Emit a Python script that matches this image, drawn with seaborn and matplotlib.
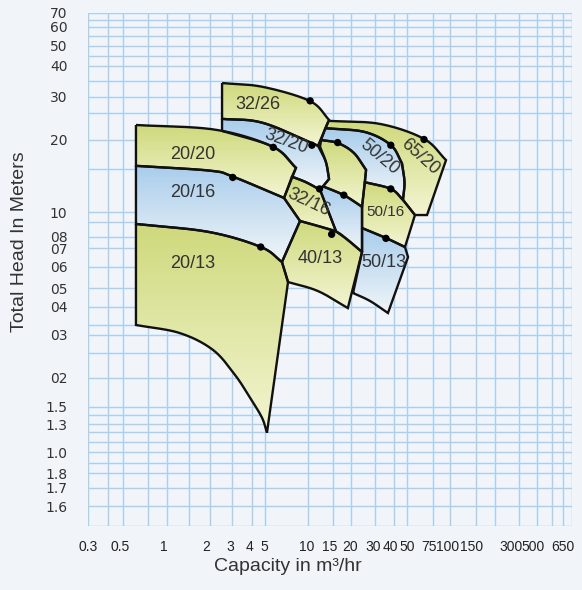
import numpy as np
import matplotlib
matplotlib.use("Agg")
import matplotlib.pyplot as plt
import matplotlib.transforms as mtransforms
import seaborn as sns
from matplotlib.path import Path
from matplotlib.patches import PathPatch
from matplotlib.colors import LinearSegmentedColormap

# ---------------------------------------------------------------- grid / scales
# printed grid lines (capacity m3/hr) and where they sit across the sheet
cap_grid = [0.3, 0.4, 0.5, 0.75, 1, 1.5, 2, 3, 4, 5, 10, 15, 20, 30, 40, 50, 75, 100, 150, 200, 300, 500, 600, 650, 750]
cap_grid_pos = [88.3, 107.7, 122.7, 147.7, 167.3, 189.3, 210, 232.3, 252.3, 265, 308.3, 333.3, 351, 375, 394, 407.3,
                432.7, 450, 476, 495, 519.3, 537.3, 552.3, 563.3, 571.7]
cap_ticks = [0.3, 0.5, 1, 2, 3, 4, 5, 10, 15, 20, 30, 40, 50, 75, 100, 150, 300, 500, 650]
cap_tick_labels = ["0.3", "0.5", "1", "2", "3", "4", "5", "10", "15", "20", "30", "40", "50", "75", "100", "150",
                   "300", "500", "650"]
cap_label_shift = [0, -2.5, -3, -4, -2, -3, -1, -2, -4, -1, -2, -4, 0, -4, -2, -4, -8, -4, 0]

# printed grid lines (head m) and their heights on the sheet
head_grid = [0.5, 0.6, 0.7, 0.8, 0.9, 1.0, 1.1, 1.2, 1.3, 1.4, 1.5, 2, 2.5, 3, 3.5, 4, 5, 6, 7, 8, 9, 10, 15, 20, 25,
             30, 35, 40, 45, 50, 55, 60, 65, 70]
head_grid_pos = [526, 506, 487.7, 473.3, 462.7, 452.3, 442, 431.7, 424, 415, 406.7, 377.7, 353, 335, 325, 306.7, 288,
                 266.5, 248, 236.5, 221.5, 212, 168.5, 139.5, 113, 96.5, 81, 65.5, 56, 45.5, 36, 27, 19.5, 12.7]
head_ticks = [70, 60, 50, 40, 30, 20, 10, 8, 7, 6, 5, 4, 3, 2, 1.5, 1.3, 1.0, 0.8, 0.7, 0.6]
head_tick_labels = ["70", "60", "50", "40", "30", "20", "10", "08", "07", "06", "05", "04", "03", "02", "1.5", "1.3",
                    "1.0", "1.8", "1.7", "1.6"]

# ---------------------------------------------------------------- pump areas
# outlines as (capacity m3/hr, head m) along each edge; edges with 3+ points are curves
area_65_20 = [[(13.9, 23.4), (32.4, 22.8), (65.3, 20.1), (93.6, 16.3)], [(93.6, 16.3), (68.5, 9.67)],
              [(68.5, 9.67), (56.5, 9.67)], [(56.5, 9.67), (46.5, 11.2)],
              [(46.5, 11.2), (47.7, 13.2), (45.7, 15.8)], [(45.7, 15.8), (38.2, 18.9), (25.3, 21.3), (13.2, 22)],
              [(13.2, 22), (13.9, 23.4)]]
area_50_20 = [[(13.2, 22), (25.3, 21.3), (38.2, 18.9), (45.7, 15.8)], [(45.7, 15.8), (47.7, 13.2), (46.5, 11.2)],
              [(46.5, 11.2), (38.2, 12.4), (25.3, 13.2)], [(25.3, 13.2), (25.8, 14.8)],
              [(25.8, 14.8), (21, 17.5), (16.2, 19.3), (12.3, 19.9)], [(12.3, 19.9), (13.2, 22)]]
area_40_20 = [[(12.3, 19.9), (16.2, 19.3), (21, 17.5), (25.8, 14.8)], [(25.8, 14.8), (24.1, 10.5)],
              [(24.1, 10.5), (17.8, 11.7), (12.7, 12.7)], [(12.7, 12.7), (14, 13.6)],
              [(14, 13.6), (13.3, 16), (12.1, 18.6)], [(12.1, 18.6), (12.3, 19.9)]]
area_40_16 = [[(12.7, 12.7), (17.8, 11.7), (24.1, 10.5)], [(24.1, 10.5), (24.1, 6.77)],
              [(24.1, 6.77), (19, 7.68), (15.7, 8.32)], [(15.7, 8.32), (12.1, 12.3)], [(12.1, 12.3), (12.7, 12.7)]]
area_50_16 = [[(25.3, 13.2), (38.2, 12.4), (46.5, 11.2)], [(46.5, 11.2), (56.5, 9.67)], [(56.5, 9.67), (48.1, 7.08)],
              [(48.1, 7.08), (35.4, 7.86), (24.1, 8.55)], [(24.1, 8.55), (24.1, 10.5)], [(24.1, 10.5), (25.3, 13.2)]]
area_50_13 = [[(24.1, 8.55), (35.4, 7.86), (48.1, 7.08)], [(48.1, 7.08), (50.6, 6.49)], [(50.6, 6.49), (36.5, 3.82)],
              [(36.5, 3.82), (27.6, 4.28), (20.7, 4.71)], [(20.7, 4.71), (24.1, 6.77)], [(24.1, 6.77), (24.1, 8.55)]]
area_32_26 = [[(2.49, 34.3), (4.83, 33), (10.3, 28.5), (14, 23.6)], [(14, 23.6), (11.7, 18.8)],
              [(11.7, 18.8), (4.83, 23), (2.49, 23.8)], [(2.49, 23.8), (2.49, 34.3)]]
area_32_20 = [[(2.49, 23.8), (4.83, 23), (11.7, 18.8)], [(11.7, 18.8), (13.3, 16), (14, 13.6)],
              [(14, 13.6), (12.1, 12.3)], [(12.1, 12.3), (9.64, 13.2), (7.7, 13.9)], [(7.7, 13.9), (8.21, 15.1)],
              [(8.21, 15.1), (5.68, 18.6), (2.49, 21.5)], [(2.49, 21.5), (2.49, 23.8)]]
area_32_16 = [[(7.7, 13.9), (9.64, 13.2), (12.1, 12.3)], [(12.1, 12.3), (15.7, 8.32)],
              [(15.7, 8.32), (11.7, 8.69), (8.76, 9.05)], [(8.76, 9.05), (6.78, 11.4)], [(6.78, 11.4), (7.7, 13.9)]]
area_40_13 = [[(8.76, 9.05), (11.7, 8.69), (15.7, 8.32), (19, 7.68), (24.1, 6.77)], [(24.1, 6.77), (19, 3.96)],
              [(19, 3.96), (11.7, 4.82), (7.23, 5.26)], [(7.23, 5.26), (6.56, 6.23)], [(6.56, 6.23), (8.76, 9.05)]]
area_20_20 = [[(0.62, 22.6), (2.23, 21.7), (5.68, 18.6), (8.21, 15.1)], [(8.21, 15.1), (6.78, 11.4)],
              [(6.78, 11.4), (3.03, 13.9), (2, 14.7), (0.62, 15.4)], [(0.62, 15.4), (0.62, 22.6)]]
area_20_16 = [[(0.62, 15.4), (2, 14.7), (3.03, 13.9), (6.78, 11.4)], [(6.78, 11.4), (8.76, 9.05)],
              [(8.76, 9.05), (6.56, 6.23)], [(6.56, 6.23), (4.66, 7.08), (1.97, 8.29), (0.62, 8.83)],
              [(0.62, 8.83), (0.62, 15.4)]]
area_20_13 = [[(0.62, 8.83), (1.97, 8.29), (4.66, 7.08), (6.56, 6.23)], [(6.56, 6.23), (7.23, 5.26)],
              [(7.23, 5.26), (5.16, 1.19)],
              [(5.16, 1.19), (4.74, 1.37), (3.87, 1.64), (3.12, 2.05), (2.11, 2.58), (1.26, 3.09), (0.62, 3.5)],
              [(0.62, 3.5), (0.62, 8.83)]]

# drawing order, tint ("y" green-yellow / "b" blue)
areas = [(area_65_20, "y"), (area_50_20, "b"), (area_40_20, "y"), (area_40_16, "b"), (area_50_16, "y"),
         (area_50_13, "b"), (area_32_26, "y"), (area_32_20, "b"), (area_32_16, "y"), (area_40_13, "y"),
         (area_20_20, "y"), (area_20_16, "b"), (area_20_13, "y")]

# model names: text, capacity, head, angle, size
model_names = ["20/20", "20/16", "20/13", "32/26", "32/20", "32/16", "40/13", "50/20", "65/20", "50/16", "50/13"]
name_cap = [1.58, 1.58, 1.58, 4.42, 7.0, 10.1, 12.1, 31.9, 61.2, 35.4, 34.4]
name_head = [17.3, 12.0, 6.13, 27.6, 19.7, 10.9, 6.39, 16.8, 16.8, 10.0, 6.18]
name_angle = [0, 0, 0, 0, -20, -25, 0, -40, -42, 0, 0]
name_size = [13, 13, 13, 13, 13, 13, 13, 13, 13, 11, 13]

# best-efficiency points
bep_cap = [10.3, 10.6, 5.71, 3.02, 4.64, 12.0, 16.1, 17.8, 14.6, 38.1, 65.3, 38.1, 35.4]
bep_head = [28.6, 18.9, 18.5, 13.8, 7.08, 12.4, 19.4, 11.7, 8.14, 18.9, 20.0, 12.4, 7.83]

# ---------------------------------------------------------------- scale functions
lcap = np.log10(cap_grid)
lhead = np.log10(head_grid)
hpos_rev = np.array(head_grid_pos[::-1])
lhead_rev = lhead[::-1]


def cap_fwd(v):
    return np.interp(np.log10(np.clip(v, 1e-6, None)), lcap, cap_grid_pos)


def cap_inv(t):
    return 10 ** np.interp(t, cap_grid_pos, lcap)


def head_fwd(v):
    return -np.interp(np.log10(np.clip(v, 1e-6, None)), lhead, head_grid_pos)


def head_inv(t):
    return 10 ** np.interp(-np.asarray(t), hpos_rev, lhead_rev)


def smooth(points, n=30):
    """Catmull-Rom curve through the points, built in scale space."""
    pts = np.asarray(points, float)
    pts = np.column_stack([cap_fwd(pts[:, 0]), head_fwd(pts[:, 1])])
    if len(pts) > 2:
        ext = np.vstack([2 * pts[0] - pts[1], pts, 2 * pts[-1] - pts[-2]])
        out = []
        for i in range(1, len(ext) - 2):
            p0, p1, p2, p3 = ext[i - 1], ext[i], ext[i + 1], ext[i + 2]
            t = np.linspace(0, 1, n, endpoint=False)[:, None]
            out.append(0.5 * (2 * p1 + (-p0 + p2) * t + (2 * p0 - 5 * p1 + 4 * p2 - p3) * t ** 2
                              + (-p0 + 3 * p1 - 3 * p2 + p3) * t ** 3))
        out.append(pts[-1:])
        pts = np.vstack(out)
    return pts


# ---------------------------------------------------------------- figure
sns.set_theme(style="white")
plt.rcParams['font.family'] = ['Liberation Sans', 'DejaVu Sans']

bg = "#f1f4f8"
fig = plt.figure(figsize=(5.82, 5.90), dpi=100)
fig.patch.set_facecolor(bg)
ax = fig.add_axes([88.3 / 582, 1 - 526 / 590, (571.7 - 88.3) / 582, (526 - 12.7) / 590])
ax.set_facecolor(bg)
ax.set_xscale("function", functions=(cap_fwd, cap_inv))
ax.set_yscale("function", functions=(head_fwd, head_inv))

grid_c = "#a9d0ef"
for v in cap_grid:
    ax.axvline(v, color=grid_c, lw=1.0, zorder=0)
for v in head_grid:
    ax.axhline(v, color=grid_c, lw=1.0, zorder=0)
for s in ax.spines.values():
    s.set_visible(False)

fills = {"y": ("#cfd97c", "#f3f5d2"), "b": ("#a9cdec", "#f0f5f8")}
x0, x1 = cap_fwd(cap_grid[0]), cap_fwd(cap_grid[-1])
y0, y1 = head_fwd(head_grid[0]), head_fwd(head_grid[-1])

for edges, tint in areas:
    chain = []
    for e in edges:
        s = smooth(e)
        chain.append(s if not chain else s[1:])
    chain = np.vstack(chain)
    data = np.column_stack([cap_inv(chain[:, 0]), head_inv(chain[:, 1])])
    patch = PathPatch(Path(data), facecolor="none", edgecolor="#111111", lw=1.7, zorder=3)
    ax.add_patch(patch)
    ext = [(chain[:, 0].min() - x0) / (x1 - x0), (chain[:, 0].max() - x0) / (x1 - x0),
           (chain[:, 1].min() - y0) / (y1 - y0), (chain[:, 1].max() - y0) / (y1 - y0)]
    cmap = LinearSegmentedColormap.from_list("shade", fills[tint])
    im = ax.imshow(np.linspace(0, 1, 64)[:, None], cmap=cmap, extent=ext, transform=ax.transAxes,
                   aspect="auto", zorder=2, origin="upper")
    im.set_clip_path(patch)

for txt, c, h, ang, fs in zip(model_names, name_cap, name_head, name_angle, name_size):
    ax.text(c, h, txt, ha="center", va="center", rotation=ang, fontsize=fs, color="#333333", zorder=5)

sns.scatterplot(x=bep_cap, y=bep_head, ax=ax, color="black", s=28, edgecolor="none", zorder=6, legend=False)

ax.set_xlim(cap_grid[0], cap_grid[-1])
ax.set_ylim(head_grid[0], head_grid[-1])
ax.set_xticks(cap_ticks)
ax.set_xticklabels(cap_tick_labels, fontsize=10, color="#222222")
ax.set_yticks(head_ticks)
ax.set_yticklabels(head_tick_labels, family=['DejaVu Sans'], fontsize=10, color="#333333")
ax.tick_params(axis="x", length=0, pad=10)
ax.tick_params(axis="y", length=0, pad=15)
ax.minorticks_off()
for lab, dx in zip(ax.get_xticklabels(), cap_label_shift):
    lab.set_transform(lab.get_transform() + mtransforms.ScaledTranslation(dx / 100, 0, fig.dpi_scale_trans))

ax.set_xlabel("Capacity in m³/hr", fontsize=14, color="#333333")
ax.set_ylabel("Total Head In Meters", fontsize=14, color="#333333")
ax.xaxis.set_label_coords(0.413, -0.062)
ax.yaxis.set_label_coords(-0.124, 0.553)

fig.savefig("out.png", dpi=100, facecolor=fig.get_facecolor())
